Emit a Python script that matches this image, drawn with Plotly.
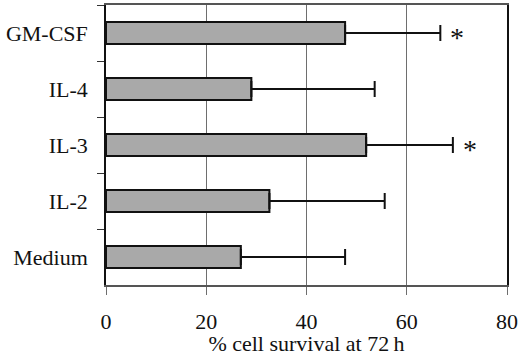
import plotly.graph_objects as go

categories = ["GM-CSF", "IL-4", "IL-3", "IL-2", "Medium"]
survival = [47.7, 29.0, 51.9, 32.6, 26.9]
sd = [19.0, 24.6, 17.3, 23.0, 20.8]
significant = [True, False, True, False, False]
x_ticks = [0, 20, 40, 60, 80]

FONT = "Liberation Serif"

fig = go.Figure()
fig.add_trace(go.Bar(
    x=survival, y=categories, orientation="h", width=0.39,
    marker=dict(color="#a9a9a9", line=dict(color="#111111", width=2)),
    error_x=dict(type="data", symmetric=False, array=sd,
                 arrayminus=[0] * len(sd), color="#111111",
                 thickness=2, width=8),
    showlegend=False,
))

for cat, v, e, s in zip(categories, survival, sd, significant):
    if s:
        fig.add_annotation(x=v + e, y=cat, text="*", showarrow=False,
                           xanchor="left", xshift=8, yshift=-4,
                           font=dict(family=FONT, size=28, color="#111"))

fig.update_layout(
    width=520, height=356,
    margin=dict(l=106, r=13, t=5, b=71),
    paper_bgcolor="white", plot_bgcolor="white",
    font=dict(family=FONT, size=22, color="#111"),
    bargap=0.6,
)
fig.update_xaxes(
    range=[0, 80], tickvals=x_ticks, showgrid=True, gridcolor="#6e6e6e",
    gridwidth=1, showline=True, linecolor="#555", linewidth=1.5, mirror=True,
    ticks="outside", ticklen=8, tickcolor="#6e6e6e", zeroline=False,
    ticklabelstandoff=8, automargin=False,
    title=dict(text="% cell survival at 72\u2009h", standoff=3,
               font=dict(family=FONT, size=22)),
)
fig.update_yaxes(
    categoryorder="array", categoryarray=categories, autorange="reversed",
    showline=True, linecolor="#111", linewidth=1.5, mirror=True,
    ticks="outside", ticklen=7, tickcolor="#333", tickson="boundaries",
    showgrid=False, ticklabelstandoff=12, automargin=False,
)

fig.write_html(
    "out.html",
    config={"displayModeBar": False},
    post_script="document.body.style.margin='0';document.body.style.overflow='hidden';",
)
